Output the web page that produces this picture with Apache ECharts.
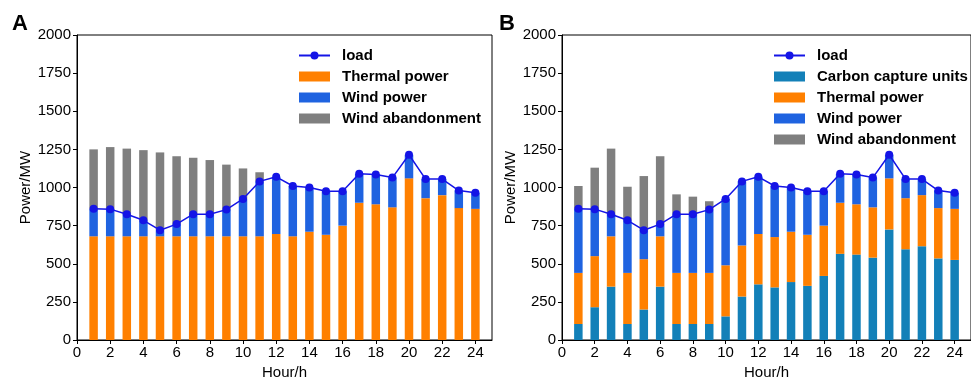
<!DOCTYPE html>
<html>
<head>
<meta charset="utf-8">
<script src="https://cdn.jsdelivr.net/npm/echarts@6/dist/echarts.min.js"></script>
<style>html,body{margin:0;padding:0;background:#fff}#c{width:971px;height:385px}</style>
</head>
<body>
<div id="c"></div>
<script>
// ---- data ----
const hours = [1,2,3,4,5,6,7,8,9,10,11,12,13,14,15,16,17,18,19,20,21,22,23,24];
// x categories: hour positions 0..25 (axis runs 0 to 25; labels every 2 h)
const xCategories = ['0','1','2','3','4','5','6','7','8','9','10','11','12','13','14','15','16','17','18','19','20','21','22','23','24','25'];
const yTicks = [0,250,500,750,1000,1250,1500,1750,2000];
// Panel A
const loadA    = [860,858,825,785,720,760,825,825,855,925,1040,1070,1010,1000,975,975,1090,1085,1065,1215,1055,1055,980,965];
const thermalA = [680,680,680,680,680,680,680,680,680,680,680,695,680,710,690,750,900,890,870,1060,930,950,865,860];
const windA    = [180,178,145,105,40,80,145,145,175,245,360,375,330,290,285,225,190,195,195,155,125,105,115,105];
const abandonA = [390,407,430,460,510,445,370,355,295,200,60,0,0,0,0,0,0,0,0,0,0,0,0,0];
// Panel B
const loadB    = [860,858,825,785,720,760,825,825,855,925,1040,1070,1010,1000,975,975,1090,1085,1065,1215,1055,1055,980,965];
const carbonB  = [105,215,350,105,200,350,105,105,105,155,285,365,345,380,355,420,565,560,540,725,595,615,535,525];
const thermalB = [335,335,330,335,330,330,335,335,335,335,335,330,330,330,335,330,335,330,330,335,335,335,330,335];
const windB    = [420,308,145,345,190,80,385,385,415,435,420,375,335,290,285,225,190,195,195,155,125,105,115,105];
const abandonB = [150,272,430,220,355,445,130,115,55,0,0,0,0,0,0,0,0,0,0,0,0,0,0,0];

// ---- styling ----
const FONT = "'Liberation Sans', Arial, sans-serif";
const C_ORANGE = '#ff8000', C_WIND = '#1f63e0', C_GRAY = '#7f7f7f', C_CCU = '#1380b8', C_LOAD = '#1414e6';
const pairs = arr => hours.map((h, i) => [String(h), arr[i]]);

function xAxis(idx){
  return {
    type:'category', gridIndex:idx, data:xCategories, boundaryGap:false,
    name:'Hour/h', nameLocation:'middle', nameGap:25,
    nameTextStyle:{fontSize:15, color:'#000', fontFamily:FONT},
    axisLine:{show:true, lineStyle:{color:'#000', width:1}},
    axisTick:{show:true, length:4, interval:1, lineStyle:{color:'#000'}},
    axisLabel:{fontSize:15, color:'#000', fontFamily:FONT, margin:5, interval:1,
      formatter: v => (Number(v) % 2 === 0 && Number(v) <= 24) ? v : ''},
    splitLine:{show:false}
  };
}
function yAxis(idx){
  return {
    type:'value', gridIndex:idx, min:0, max:2000, interval:250,
    name:'Power/MW', nameLocation:'middle', nameGap:39, nameRotate:90,
    nameTextStyle:{fontSize:15, color:'#000', fontFamily:FONT},
    axisLine:{show:true, lineStyle:{color:'#000', width:1}},
    axisTick:{show:true, length:4, lineStyle:{color:'#000'}},
    axisLabel:{fontSize:15, color:'#000', fontFamily:FONT, margin:6,
      formatter: v => yTicks.indexOf(v) >= 0 ? String(v) : ''},
    splitLine:{show:false}
  };
}
function bar(name, data, color, stack, idx){
  return {type:'bar', name, data:pairs(data), stack, xAxisIndex:idx, yAxisIndex:idx,
    barWidth:8.5, itemStyle:{color}, emphasis:{disabled:true}, animation:false};
}
function line(data, idx){
  return {type:'line', name:'load', data:pairs(data), xAxisIndex:idx, yAxisIndex:idx,
    symbol:'circle', symbolSize:8, itemStyle:{color:C_LOAD}, lineStyle:{color:C_LOAD, width:1.5},
    z:5, animation:false};
}
function legend(left, names){
  return {
    orient:'vertical', left, top:48, padding:0, itemWidth:31, itemHeight:10, itemGap:6,
    selectedMode:false,
    textStyle:{fontSize:15, fontWeight:'bold', color:'#000', fontFamily:FONT, padding:[0,0,0,7]},
    data: names.map(n => n === 'load' ? {name:n} : {name:n, icon:'rect'})
  };
}

const chart = echarts.init(document.getElementById('c'), null, {renderer:'canvas'});
chart.setOption({
  animation:false,
  backgroundColor:'#fff',
  title:[
    {text:'A', left:12, top:13, padding:0, textStyle:{fontSize:22, fontWeight:'bold', color:'#000', fontFamily:FONT}},
    {text:'B', left:499, top:13, padding:0, textStyle:{fontSize:22, fontWeight:'bold', color:'#000', fontFamily:FONT}}
  ],
  grid:[
    {left:77, top:35, width:415, height:310, show:true, borderColor:'#000', borderWidth:1, backgroundColor:'transparent'},
    {left:562, top:35, width:415, height:310, show:true, borderColor:'#000', borderWidth:1, backgroundColor:'transparent'}
  ],
  legend:[
    legend(298, ['load','Thermal power','Wind power','Wind abandonment']),
    legend(773, ['load','Carbon capture units','Thermal power','Wind power','Wind abandonment'])
  ],
  xAxis:[xAxis(0), xAxis(1)],
  yAxis:[yAxis(0), yAxis(1)],
  series:[
    bar('Thermal power', thermalA, C_ORANGE, 'A', 0),
    bar('Wind power', windA, C_WIND, 'A', 0),
    bar('Wind abandonment', abandonA, C_GRAY, 'A', 0),
    line(loadA, 0),
    bar('Carbon capture units', carbonB, C_CCU, 'B', 1),
    bar('Thermal power', thermalB, C_ORANGE, 'B', 1),
    bar('Wind power', windB, C_WIND, 'B', 1),
    bar('Wind abandonment', abandonB, C_GRAY, 'B', 1),
    line(loadB, 1)
  ]
});
</script>
</body>
</html>
